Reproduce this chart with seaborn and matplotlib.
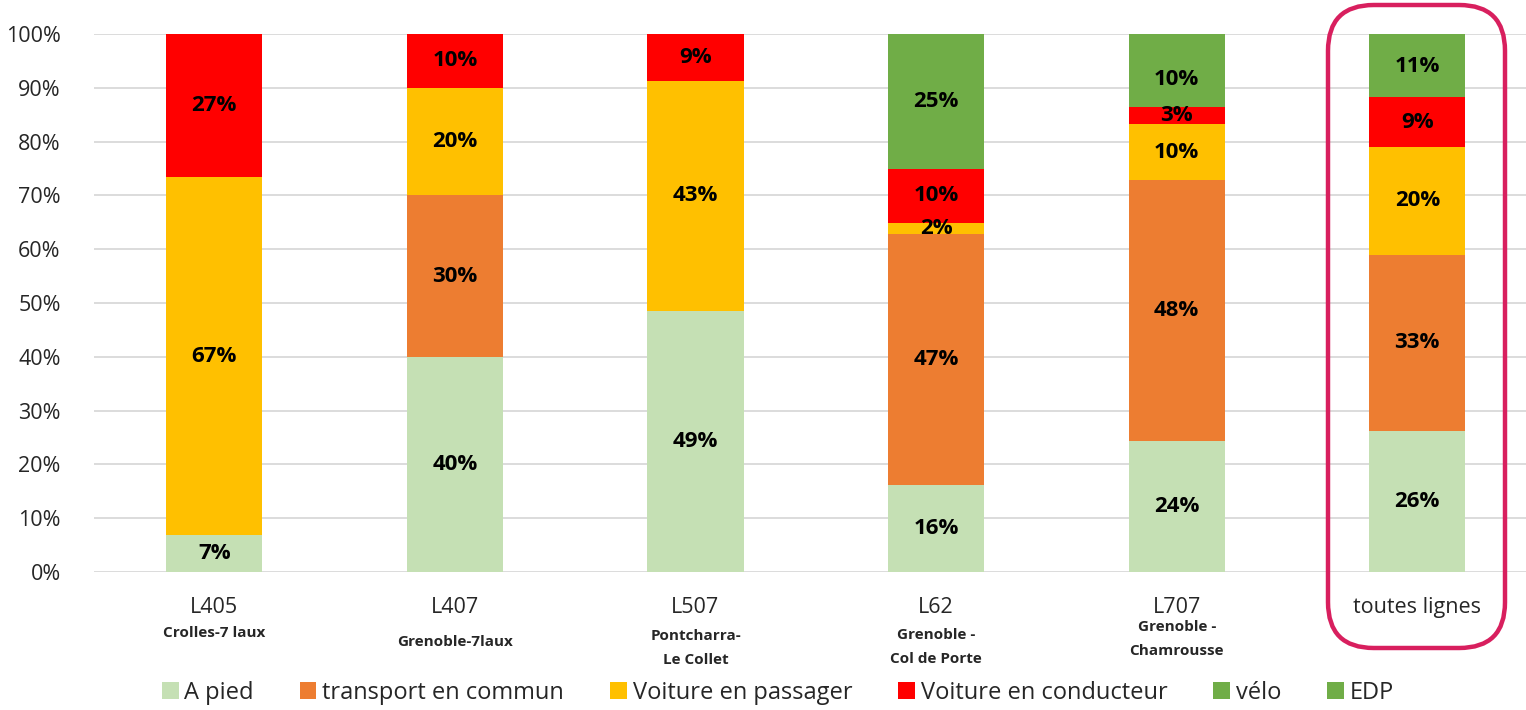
import numpy as np
import pandas as pd
import matplotlib
matplotlib.use("Agg")
import matplotlib.pyplot as plt
from matplotlib.patches import FancyBboxPatch, Patch
import seaborn as sns

# ---- data ----
lignes = ["L405", "L407", "L507", "L62", "L707", "toutes lignes"]
trajets = ["Crolles-7 laux", "Grenoble-7laux", "Pontcharra-\nLe Collet",
           "Grenoble -\nCol de Porte", "Grenoble -\nChamrousse", ""]
modes = ["A pied", "transport en commun", "Voiture en passager",
         "Voiture en conducteur", "vélo", "EDP"]

a_pied = [6.8, 40.0, 48.6, 16.1, 24.4, 26.2]
transport = [0.0, 30.0, 0.0, 46.8, 48.4, 32.8]
passager = [66.6, 20.0, 42.6, 2.0, 10.4, 20.0]
conducteur = [26.6, 10.0, 8.8, 10.1, 3.2, 9.2]
velo = [0.0, 0.0, 0.0, 25.0, 10.3, 11.4]
edp = [0.0, 0.0, 0.0, 0.0, 3.3, 0.4]

couleurs = ["#C5E0B4", "#ED7D31", "#FFC000", "#FF0000", "#70AD47", "#70AD47"]
avec_etiquette = [True, True, True, True, True, False]

# ---- layout ----
W, H = 1526, 710
sns.set_theme(style="white")
plt.rcParams['font.family'] = ['Open Sans', 'DejaVu Sans']

fig = plt.figure(figsize=(W / 100, H / 100), dpi=100)
ax = fig.add_axes([94 / W, 138 / H, (W - 94) / W, 538 / H])

df = pd.DataFrame({"ligne": lignes, "A pied": a_pied, "transport en commun": transport,
                   "Voiture en passager": passager, "Voiture en conducteur": conducteur,
                   "vélo": velo, "EDP": edp})
cum = df[modes].cumsum(axis=1)

# overlapping cumulative bars, tallest first
for i in range(len(modes) - 1, -1, -1):
    sns.barplot(x=df["ligne"], y=cum[modes[i]], order=lignes, color=couleurs[i],
                width=0.4, saturation=1, ax=ax, linewidth=0)

for i, m in enumerate(modes):
    if not avec_etiquette[i]:
        continue
    for j in range(len(lignes)):
        v = df[m].iloc[j]
        if v <= 0:
            continue
        y = cum[m].iloc[j] - v / 2
        ax.text(j, y, f"{v:.0f}%", ha="center", va="center", fontsize=16,
                fontweight="bold", color="black")

ax.set_xlim(-0.5, -0.5 + (W - 94) / 240.6)
ax.set_ylim(0, 100)
ax.set_yticks(np.arange(0, 101, 10))
ax.set_yticklabels([f"{t}%" for t in range(0, 101, 10)], fontsize=15.5)
ax.yaxis.grid(True, color="#D9D9D9", linewidth=1.3)
ax.set_axisbelow(True)
for s in ax.spines.values():
    s.set_visible(False)
ax.tick_params(axis="both", length=0)
ax.tick_params(axis="y", pad=24)
ax.set_xticks(range(len(lignes)))
ax.set_xticklabels(lignes, fontsize=15.5)
ax.tick_params(axis="x", pad=18)
ax.set_xlabel("")
ax.set_ylabel("")

# bold sub-labels under line names
sous_y = [633, 642, 648, 647, 639, 0]
for j, t in enumerate(trajets):
    if not t:
        continue
    fig.text((94 + (j + 0.5) * 240.6) / W, 1 - sous_y[j] / H, t, ha="center", va="center",
             fontsize=11, fontweight="bold", linespacing=1.85)

# highlight frame around "toutes lignes"
cadre = FancyBboxPatch((1328 / W, 62 / H), 177 / W, 643 / H,
                       boxstyle="round,pad=0,rounding_size=0.03",
                       transform=fig.transFigure, fill=False,
                       edgecolor="#D81F5E", linewidth=3.2, clip_on=False,
                       mutation_aspect=W / H)
fig.patches.append(cadre)

handles = [Patch(facecolor=c, edgecolor="none") for c in couleurs]
fig.legend(handles, modes, loc="center", bbox_to_anchor=(778 / W, 17 / H), ncol=6,
           frameon=False, fontsize=17, handlelength=0.7, handleheight=0.7,
           handletextpad=0.25, columnspacing=1.95)

fig.savefig("out.png", dpi=100)
